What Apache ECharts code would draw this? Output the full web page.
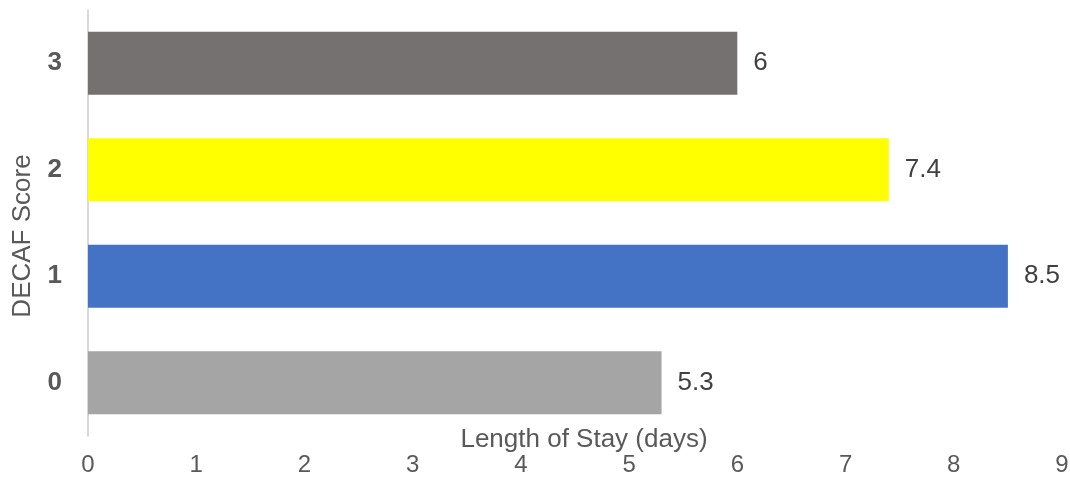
<!DOCTYPE html>
<html>
<head>
<meta charset="utf-8">
<style>
  html, body { margin: 0; padding: 0; background: #ffffff; }
  #chart { width: 1070px; height: 477px; }
</style>
<script src="https://cdn.jsdelivr.net/npm/echarts@6/dist/echarts.min.js"></script>
</head>
<body>
<div id="chart"></div>
<script>
// DECAF score categories (bottom to top) and mean length of stay
const scores = ['0', '1', '2', '3'];
const stayDays = [5.3, 8.5, 7.4, 6];
const barColors = ['#A5A5A5', '#4472C4', '#FFFF00', '#767171'];
const xTicks = { min: 0, max: 9, interval: 1 };

const FONT = '"Liberation Sans", Arial, sans-serif';

const chart = echarts.init(document.getElementById('chart'));
chart.setOption({
  animation: false,
  backgroundColor: '#ffffff',
  grid: {
    left: 88, right: 8, top: 10, bottom: 41,
    containLabel: false,
    outerBoundsMode: 'none'
  },
  xAxis: {
    type: 'value',
    min: xTicks.min,
    max: xTicks.max,
    interval: xTicks.interval,
    name: 'Length of Stay (days)',
    nameLocation: 'middle',
    nameGap: 4,
    nameMoveOverlap: false,
    nameTextStyle: {
      fontFamily: FONT, fontSize: 26, color: '#595959',
      verticalAlign: 'middle', padding: [0, 0, 0, 18]
    },
    axisLine: { show: false },
    axisTick: { show: false },
    splitLine: { show: false },
    axisLabel: { fontFamily: FONT, fontSize: 24, color: '#595959', margin: 17 }
  },
  yAxis: {
    type: 'category',
    data: scores,
    name: 'DECAF Score',
    nameLocation: 'middle',
    nameGap: 52,
    nameRotate: 90,
    nameMoveOverlap: false,
    nameTextStyle: {
      fontFamily: FONT, fontSize: 26, color: '#595959',
      padding: [0, 26, 0, 0]
    },
    axisLine: { show: true, lineStyle: { color: '#D9D9D9', width: 2 } },
    axisTick: { show: false },
    axisLabel: { fontFamily: FONT, fontSize: 26, fontWeight: 'bold', color: '#595959', margin: 26 }
  },
  series: [{
    type: 'bar',
    data: stayDays.map((v, i) => ({ value: v, itemStyle: { color: barColors[i] } })),
    barWidth: 63,
    label: {
      show: true,
      position: 'right',
      distance: 16,
      fontFamily: FONT,
      fontSize: 26,
      color: '#404040'
    }
  }]
});
</script>
</body>
</html>
